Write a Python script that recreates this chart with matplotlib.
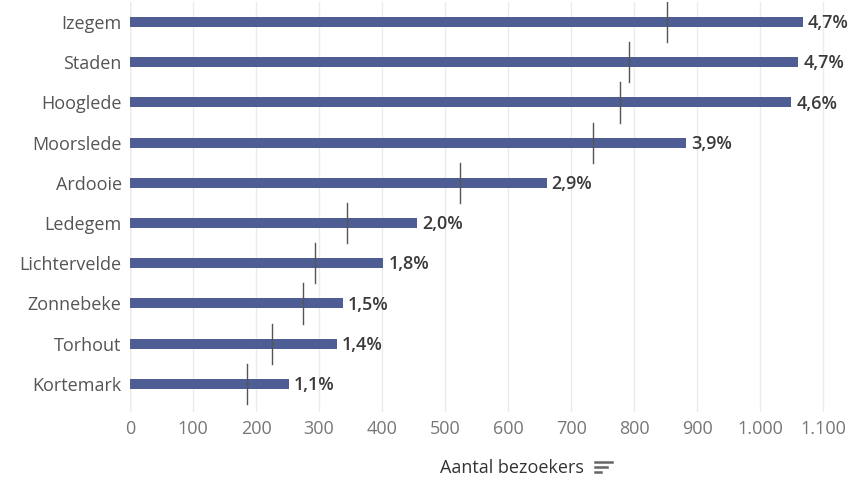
import matplotlib
matplotlib.use("Agg")
import matplotlib.pyplot as plt
from matplotlib.lines import Line2D

gemeenten = ["Izegem", "Staden", "Hooglede", "Moorslede", "Ardooie",
             "Ledegem", "Lichtervelde", "Zonnebeke", "Torhout", "Kortemark"]
bezoekers = [1067, 1060, 1049, 882, 661, 455, 402, 338, 328, 252]
referentie = [852, 791, 778, 734, 524, 345, 293, 274, 225, 185]
aandeel = ["4,7%", "4,7%", "4,6%", "3,9%", "2,9%", "2,0%", "1,8%", "1,5%", "1,4%", "1,1%"]
xticks = [0, 100, 200, 300, 400, 500, 600, 700, 800, 900, 1000, 1100]

plt.rcParams["font.family"] = ["Open Sans", "DejaVu Sans"]

fig = plt.figure(figsize=(8.53, 4.79), dpi=100)
ax = fig.add_axes([0.1524, 0.14, 0.824, 0.856])

y = list(range(len(gemeenten)))
ax.barh(y, bezoekers, height=0.25, color="#4e5d94", zorder=3)
for i, (v, r, lab) in enumerate(zip(bezoekers, referentie, aandeel)):
    ax.plot([r, r], [i - 0.5, i + 0.5], color="#555555", lw=1, zorder=4)
    ax.text(v + 8, i + 0.03, lab, va="center", ha="left", fontsize=13,
            fontweight="semibold", color="#3a3a3a")

ax.set_xlim(0, 1115)
ax.set_ylim(9.7, -0.5)
ax.set_yticks(y)
ax.set_yticklabels(gemeenten, fontsize=13, color="#555555")
ax.set_xticks(xticks)
ax.set_xticklabels([f"{t:,}".replace(",", ".") for t in xticks],
                   fontsize=13, color="#777777")
ax.tick_params(axis="both", length=0)
ax.tick_params(axis="y", pad=6)
ax.tick_params(axis="x", pad=6)
ax.grid(axis="x", color="#ebebeb", lw=1, zorder=0)
for s in ax.spines.values():
    s.set_visible(False)
ax.axvline(0, color="#e0e0e0", lw=1, zorder=1)

fig.text(0.5997, 1 - 468 / 479, "Aantal bezoekers", ha="center", va="center",
         fontsize=13, color="#333333")
# sort icon next to the axis title
for k, w in enumerate([17, 12, 6]):
    yy = 1 - (462 + k * 5) / 479
    x0 = 595 / 853
    fig.add_artist(Line2D([x0, x0 + w / 853], [yy, yy], color="#666666", lw=1.8))

fig.savefig("out.png", dpi=100)
